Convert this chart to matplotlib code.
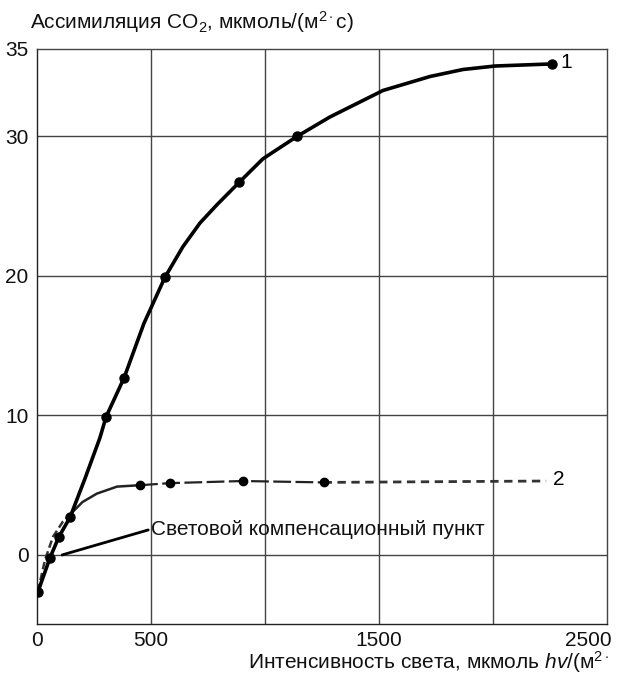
import matplotlib
matplotlib.use("Agg")
import matplotlib.pyplot as plt
from matplotlib.transforms import ScaledTranslation

plt.rcParams['font.family'] = ['Liberation Sans', 'DejaVu Sans']
plt.rcParams['mathtext.fontset'] = 'custom'
plt.rcParams['mathtext.rm'] = 'Liberation Sans'
plt.rcParams['mathtext.it'] = 'Liberation Sans:italic'

# Curve 1 (line) and its markers
c1_line_x = [4, 57, 96, 145, 211, 276, 303, 382, 469, 561, 640, 715, 789, 886, 991,
             1140, 1285, 1518, 1724, 1868, 2009, 2259]
c1_line_y = [-2.65, -0.2, 1.3, 2.7, 5.5, 8.4, 9.9, 12.7, 16.6, 19.9, 22.1, 23.8, 25.1,
             26.7, 28.4, 30.0, 31.4, 33.3, 34.3, 34.8, 35.05, 35.2]
c1_pts_x = [4, 57, 96, 145, 303, 382, 561, 886, 1140, 2259]
c1_pts_y = [-2.65, -0.2, 1.3, 2.7, 9.9, 12.7, 19.9, 26.7, 30.0, 35.2]

# Curve 2
c2_start_x = [4, 35, 70, 114, 145]
c2_start_y = [-2.6, -0.36, 1.3, 2.4, 2.9]
c2_solid_x = [145, 200, 263, 351, 452]
c2_solid_y = [2.9, 3.8, 4.4, 4.9, 5.0]
c2_pts_x = [452, 585, 902, 1257]
c2_pts_y = [5.0, 5.15, 5.3, 5.2]
c2_ext_x = [1257, 2233]
c2_ext_y = [5.2, 5.3]

ytick_pos = [0, 10, 20, 30, 36.27]
ytick_lab = ['0', '10', '20', '30', '35']
xtick_pos = [0, 500, 1500, 2500]
xtick_lab = ['0', '500', '1500', '2500']
xgrid = [500, 1000, 1500, 2000]
ygrid = [0, 10, 20, 30]

fig = plt.figure(figsize=(6.22, 6.82), dpi=100)
ax = fig.add_axes([37/622, 1-624/682, 570/622, 575/682])
ax.set_xlim(0, 2500)
ax.set_ylim(-4.95, 36.27)

gc = '#444444'
for gx in xgrid:
    ax.axvline(gx, color=gc, lw=1.0, zorder=1)
for gy in ygrid:
    ax.axhline(gy, color=gc, lw=1.0, zorder=1)
for s in ax.spines.values():
    s.set_color(gc)
    s.set_linewidth(1.0)
ax.spines['left'].set_color('#222222')
ax.spines['bottom'].set_color('#222222')

ax.set_xticks(xtick_pos)
ax.set_xticklabels(xtick_lab)
ax.set_yticks(ytick_pos)
ax.set_yticklabels(ytick_lab)
ax.tick_params(axis='both', length=0, labelsize=15, colors='#111111')
ax.tick_params(axis='y', pad=6)
ax.tick_params(axis='x', pad=5)
last = ax.get_xticklabels()[-1]
last.set_ha('right')
last.set_transform(last.get_transform() + ScaledTranslation(5/100, 0, fig.dpi_scale_trans))

# curve 1
ax.plot(c1_line_x, c1_line_y, color='black', lw=2.6, zorder=4,
        solid_capstyle='round', solid_joinstyle='round')
ax.plot(c1_pts_x, c1_pts_y, 'o', color='black', ms=6.5, zorder=5)

# curve 2
ax.plot(c2_start_x, c2_start_y, color='#333333', lw=1.8, ls=(0, (3, 1.5)), zorder=3)
ax.plot(c2_solid_x, c2_solid_y, color='#222222', lw=1.8, zorder=3,
        solid_joinstyle='round')
ax.plot(c2_pts_x, c2_pts_y, color='#222222', lw=1.6, ls=(0, (8, 2)), zorder=3)
ax.plot(c2_ext_x, c2_ext_y, color='#333333', lw=2.0, ls=(0, (3, 2)), zorder=3)
ax.plot(c2_pts_x, c2_pts_y, 'o', color='black', ms=6, zorder=5)

# annotation
ax.annotate('Световой компенсационный пункт', xy=(110, 0.0), xytext=(500, 1.85),
            fontsize=15, va='center', ha='left', color='#111111',
            arrowprops=dict(arrowstyle='-', color='black', lw=2.0, shrinkA=0, shrinkB=0,
                            relpos=(0, 0.5)), zorder=6)

ax.text(2295, 35.3, '1', fontsize=15, va='center', ha='left')
ax.text(2265, 5.4, '2', fontsize=15, va='center', ha='left')

fig.text(30/622, 1-22/682, 'Ассимиляция CO$_2$, мкмоль/(м$^{2\\cdot}$с)', fontsize=15,
         va='center', ha='left', color='#111111')
fig.text(248/622, 1-662/682, 'Интенсивность света, мкмоль $\\mathit{hv}$/(м$^{2\\cdot}$',
         fontsize=15, va='center', ha='left', color='#111111')

fig.savefig('out.png', dpi=100)
